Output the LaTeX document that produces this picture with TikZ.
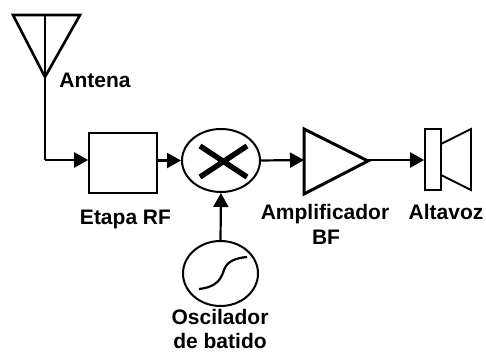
\documentclass[tikz,border=0pt]{standalone}
\usepackage{fontspec}
\setmainfont{Liberation Sans}
\usetikzlibrary{shapes.geometric,arrows.meta}
\tikzset{
  wire/.style={line width=2.2pt,-{Triangle[length=14pt,width=15pt]}},
  plain/.style={line width=2.2pt},
  block/.style={draw,line width=1.8pt,inner sep=0pt,minimum width=68pt,minimum height=60pt},
  round/.style={draw,ellipse,line width=2pt,inner sep=0pt},
  lab/.style={font=\fontsize{21}{25}\selectfont\bfseries,inner sep=0pt,anchor=base},
}
\begin{document}
\begin{tikzpicture}[x=1pt,y=-1pt]
\useasboundingbox (0,0) rectangle (486,352);
% antenna
\coordinate (atl) at (13,15);
\coordinate (atr) at (80,15);
\coordinate (atip) at (45,77);
\coordinate (atop) at (45,15);
\coordinate (acorner) at (45,160);
\draw[line width=2.6pt,miter limit=10] (atl) -- (atr) -- (atip) -- cycle;
\draw[plain] (atop) -- (atip);
% blocks
\node[block] (rf) at (123,163) {};
\node[round,minimum width=78pt,minimum height=63pt] (mix) at (221,160.5) {};
\node[round,minimum width=75pt,minimum height=65pt] (osc) at (220.5,273.5) {};
% mixer cross
\coordinate (x1) at (200,146);
\coordinate (x2) at (247,177);
\coordinate (x3) at (200,177);
\coordinate (x4) at (247,146);
\draw[line width=5.4pt] (x1) -- (x2) (x3) -- (x4);
% oscillator curve
\coordinate (c1) at (199,289);
\coordinate (c2) at (247,257);
\draw[line width=2.2pt] (c1) .. controls (217,287) and (221,279) .. (224,270) .. controls (227,261) and (236,258) .. (c2);
% amplifier
\coordinate (amp1) at (304,129);
\coordinate (amp2) at (304,194);
\coordinate (ampout) at (368,161);
\coordinate (ampin) at (304,160);
\draw[line width=3pt] (amp1) -- (ampout) -- (amp2) -- cycle;
% loudspeaker
\node[draw,line width=1.8pt,inner sep=0pt,minimum width=16pt,minimum height=61pt] (spk) at (433,159.5) {};
\coordinate (cone1) at (441,144);
\coordinate (cone2) at (471,129);
\coordinate (cone3) at (471,190);
\coordinate (cone4) at (441,175);
\draw[line width=1.8pt] (cone1) -- (cone2) -- (cone3) -- (cone4);
% connectors
\draw[plain] (atip) -- (acorner);
\draw[wire] (acorner) -- (rf.west |- acorner);
\draw[wire] (rf.east |- mix.west) -- (mix.west);
\draw[wire] (mix.east) -- (ampin);
\draw[wire] (ampout |- ampin) -- (spk.west |- ampin);
\draw[wire] (osc.north) -- (mix.south);
% labels
\node[lab] (lant) at (95,88) {Antena};
\node[lab] (lrf) at (125.5,225) {Etapa RF};
\node[lab] (lamp) at (325,219) {Amplificador};
\node[lab] (lbf) at (326,244) {BF};
\node[lab] (lalt) at (446,219) {Altavoz};
\node[lab] (losc) at (220,324.5) {Oscilador};
\node[lab] (lbat) at (220,348.5) {de batido};
\end{tikzpicture}
\end{document}
